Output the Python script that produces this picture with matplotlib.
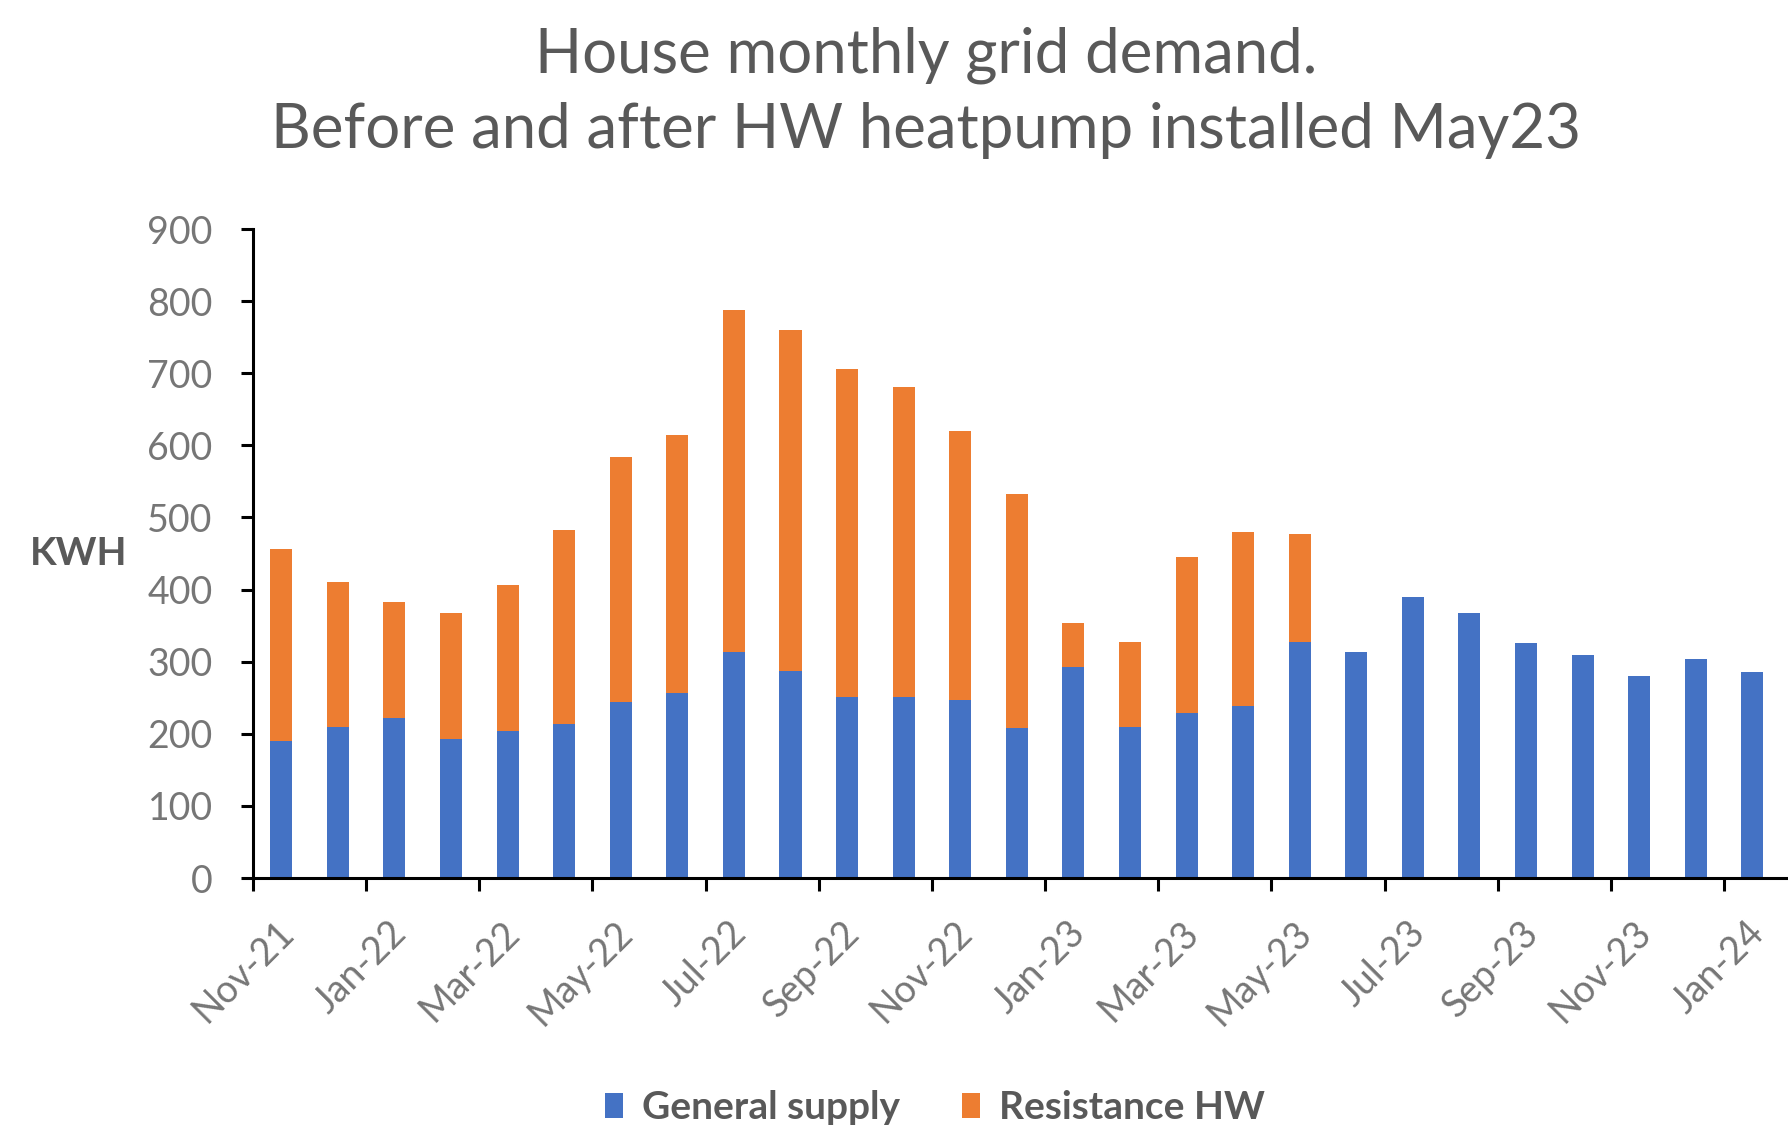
import numpy as np
import matplotlib.pyplot as plt
from matplotlib.transforms import ScaledTranslation

months = ['Nov-21', 'Dec-21', 'Jan-22', 'Feb-22', 'Mar-22', 'Apr-22', 'May-22',
          'Jun-22', 'Jul-22', 'Aug-22', 'Sep-22', 'Oct-22', 'Nov-22', 'Dec-22',
          'Jan-23', 'Feb-23', 'Mar-23', 'Apr-23', 'May-23', 'Jun-23', 'Jul-23',
          'Aug-23', 'Sep-23', 'Oct-23', 'Nov-23', 'Dec-23', 'Jan-24']
general_supply = [190, 210, 222, 193, 204, 213, 244, 257, 314, 287, 251, 251, 247, 208,
                  293, 210, 229, 238, 327, 314, 390, 368, 326, 310, 280, 304, 286]
resistance_hw = [266, 200, 161, 175, 203, 270, 340, 357, 474, 473, 455, 430, 373, 325,
                 60, 117, 216, 242, 150, 0, 0, 0, 0, 0, 0, 0, 0]

plt.rcParams['font.family'] = ['Lato', 'DejaVu Sans']

blue = '#4472C4'
orange = '#ED7D31'
grey = '#595959'

x = np.arange(len(months))

fig = plt.figure(figsize=(17.88, 11.26), dpi=100)
ax = fig.add_axes([0.1415, 0.2202, 0.8585, 0.5764])

b1 = ax.bar(x, general_supply, width=0.39, color=blue, label='General supply')
b2 = ax.bar(x, resistance_hw, width=0.39, bottom=general_supply, color=orange,
            label='Resistance HW')

ax.set_xlim(-0.5, 26.63)
ax.set_ylim(0, 900)
ax.set_yticks(np.arange(0, 901, 100))

# labels every second month, tick marks between categories
ax.set_xticks(x[::2])
ax.set_xticklabels(months[::2], rotation=45, ha='right', va='top',
                   rotation_mode='anchor')
ax.set_xticks(np.arange(-0.5, 26, 2), minor=True)
ax.tick_params(axis='x', which='major', length=0, pad=26, labelsize=27,
               labelcolor='#767676')
ax.tick_params(axis='x', which='minor', length=9, width=2.2, color='black',
               direction='out')
ax.tick_params(axis='y', length=9, width=2.2, pad=20, labelsize=27,
               labelcolor='#767676')
for lab in ax.get_xticklabels():
    lab.set_transform(lab.get_transform() + ScaledTranslation(-0.06, 0, fig.dpi_scale_trans))

for s in ['top', 'right']:
    ax.spines[s].set_visible(False)
for s in ['left', 'bottom']:
    ax.spines[s].set_linewidth(2.2)
    ax.spines[s].set_color('black')

fig.text(0.518, 1 - 72 / 1126, 'House monthly grid demand.', ha='center',
         va='baseline', fontsize=44.5, color=grey)
fig.text(0.518, 1 - 148 / 1126, 'Before and after HW heatpump installed May23',
         ha='center', va='baseline', fontsize=44.5, color=grey)
fig.text(0.0168, 1 - 554 / 1126, 'KWH', ha='left', va='center', fontsize=28,
         fontweight='bold', color=grey)

leg = fig.legend(handles=[b1, b2], loc='center', bbox_to_anchor=(0.523, 0.016),
                 ncol=2, frameon=False, handlelength=0.45, handleheight=0.6,
                 handletextpad=0.5, columnspacing=1.6, borderpad=0,
                 prop={'size': 28, 'weight': 'bold'})
for t in leg.get_texts():
    t.set_color(grey)

fig.savefig('out.png', dpi=100)
